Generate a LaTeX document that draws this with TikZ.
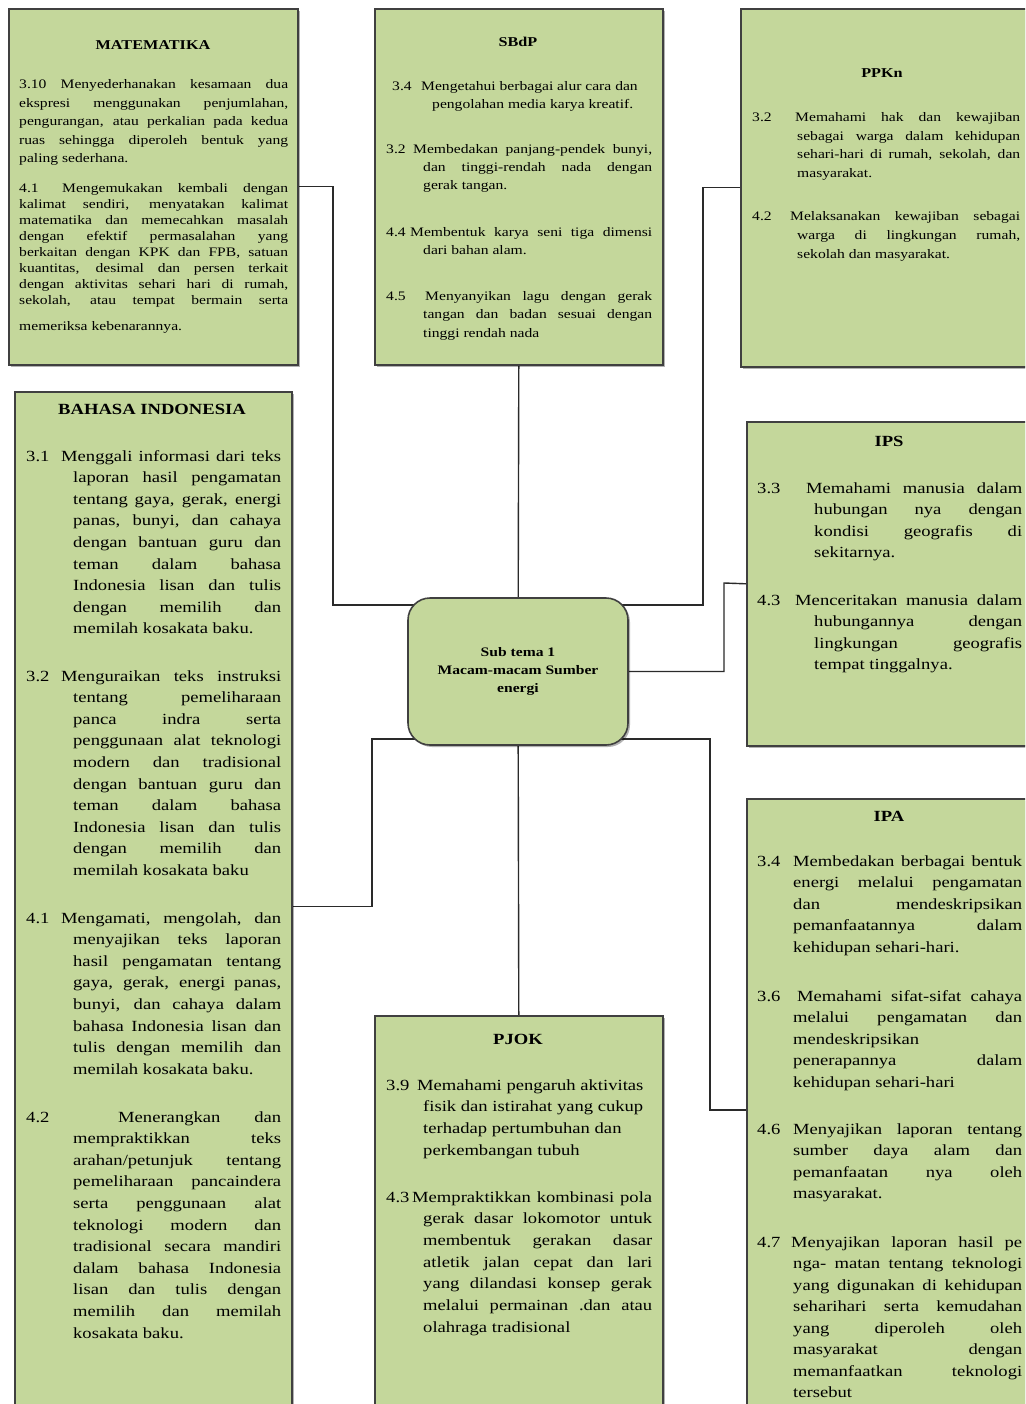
\documentclass[tikz,border=0pt]{standalone}
\usepackage{fontspec}
\setmainfont{Liberation Serif}[FakeStretch=1.2]
\usetikzlibrary{backgrounds,shadows}
\definecolor{boxfill}{HTML}{C4D79B}
\definecolor{boxline}{HTML}{404040}
\definecolor{connline}{HTML}{2A2A2A}
\tolerance=10000 \hbadness=10000 \hyphenpenalty=10000 \exhyphenpenalty=10000
\newcommand{\hng}[1]{\hangindent=#1\hangafter=1\noindent}
\newcommand{\nbox}[2]{\makebox[#1][l]{#2}}
\tikzset{
  box/.style={draw=boxline, fill=boxfill, line width=1.6pt, inner sep=0pt, anchor=north west,
    drop shadow={shadow xshift=2pt, shadow yshift=-2pt, fill=black, opacity=0.3}},
  conn/.style={draw=connline, line width=1.4pt},
  title/.style={anchor=base, inner sep=0pt, font=\bfseries\fontsize{#1}{#1}\selectfont},
  para/.style={anchor=base west, inner sep=0pt, align=justify, text width=#1},
  fs/.style={font=\fontsize{13}{#1}\selectfont},
  fl/.style={font=\fontsize{15.5}{#1}\selectfont},
}
\begin{document}
\begin{tikzpicture}[x=1pt,y=-1pt]
\useasboundingbox (0,0) rectangle (1025,1404);
\begin{scope}
\clip (0,0) rectangle (1025,1404);
% boxes
\node[box, minimum width=289pt, minimum height=356pt] (mat) at (8,8) {};
\node[box, minimum width=288pt, minimum height=356pt] (sbdp) at (374,8) {};
\node[box, minimum width=305pt, minimum height=358pt] (ppkn) at (740,8) {};
\node[box, minimum width=277pt, minimum height=1029pt] (bi) at (14,391) {};
\node[box, minimum width=299pt, minimum height=324pt] (ips) at (746,421) {};
\node[box, minimum width=299pt, minimum height=622pt] (ipa) at (746,798) {};
\node[box, minimum width=288pt, minimum height=405pt] (pjok) at (374,1015) {};
\node[box, rounded corners=22pt, minimum width=220pt, minimum height=147pt, anchor=center,
  align=center, font=\bfseries\fontsize{13}{18}\selectfont] (hub) at (518,671.5)
  {Sub tema 1\\Macam-macam Sumber\\energi};

% MATEMATIKA
\node[title=13.5] (matT) at (153,50) {MATEMATIKA};
\node[para=269pt, fs=18.5] (mat1) at (19,89) {\noindent 3.10 Menyederhanakan kesamaan dua\linebreak ekspresi menggunakan penjumlahan,\linebreak pengurangan, atau perkalian pada kedua\linebreak ruas sehingga diperoleh bentuk yang\linebreak paling sederhana.\par};
\node[para=269pt, fs=16] (mat2) at (19,193) {\noindent\nbox{43pt}{4.1}Mengemukakan kembali dengan\linebreak kalimat sendiri, menyatakan kalimat\linebreak matematika dan memecahkan masalah\linebreak dengan efektif permasalahan yang\linebreak berkaitan dengan KPK dan FPB, satuan\linebreak kuantitas, desimal dan persen terkait\linebreak dengan aktivitas sehari hari di rumah,\linebreak sekolah, atau tempat bermain serta\vadjust{\vskip 10pt}\linebreak memeriksa kebenarannya.\par};

% SBdP
\node[title=13.5] (sbT) at (518,47) {SBdP};
\node[para=260pt, fs=17.5] (sb1) at (392,91) {\hng{40pt}\nbox{29pt}{3.4}Mengetahui berbagai alur cara dan\\ pengolahan media karya kreatif.\par};
\node[para=266pt, fs=18] (sb2) at (386,154) {\hng{37pt}\nbox{27pt}{3.2}Membedakan panjang-pendek bunyi,\linebreak dan tinggi-rendah nada dengan\linebreak gerak tangan.\par};
\node[para=266pt, fs=18] (sb3) at (386,237) {\hng{37pt}\nbox{24pt}{4.4}Membentuk karya seni tiga dimensi\linebreak dari bahan alam.\par};
\node[para=266pt, fs=18] (sb4) at (386,301) {\hng{37pt}\nbox{39pt}{4.5}Menyanyikan lagu dengan gerak\linebreak tangan dan badan sesuai dengan\linebreak tinggi rendah nada\par};

% PPKn
\node[title=13.5] (ppT) at (882,78) {PPKn};
\node[para=268pt, fs=18.5] (pp1) at (752,122) {\hng{45pt}\nbox{43pt}{3.2}Memahami hak dan kewajiban\linebreak sebagai warga dalam kehidupan\linebreak sehari-hari di rumah, sekolah, dan\linebreak masyarakat.\par};
\node[para=268pt, fs=19] (pp2) at (752,221) {\hng{45pt}\nbox{38pt}{4.2}Melaksanakan kewajiban sebagai\linebreak warga di lingkungan rumah,\linebreak sekolah dan masyarakat.\par};

% BAHASA INDONESIA
\node[title=15.5] (biT) at (152,414) {BAHASA INDONESIA};
\node[para=255pt, fl=21.6] (bi1) at (26,461) {\hng{47pt}\nbox{35pt}{3.1}Menggali informasi dari teks\linebreak laporan hasil pengamatan\linebreak tentang gaya, gerak, energi\linebreak panas, bunyi, dan cahaya\linebreak dengan bantuan guru dan\linebreak teman dalam bahasa\linebreak Indonesia lisan dan tulis\linebreak dengan memilih dan\linebreak memilah kosakata baku.\par};
\node[para=255pt, fl=21.6] (bi2) at (26,681) {\hng{47pt}\nbox{35pt}{3.2}Menguraikan teks instruksi\linebreak tentang pemeliharaan\linebreak panca indra serta\linebreak penggunaan alat teknologi\linebreak modern dan tradisional\linebreak dengan bantuan guru dan\linebreak teman dalam bahasa\linebreak Indonesia lisan dan tulis\linebreak dengan memilih dan\linebreak memilah kosakata baku\par};
\node[para=255pt, fl=21.6] (bi3) at (26,923) {\hng{47pt}\nbox{35pt}{4.1}Mengamati, mengolah, dan\linebreak menyajikan teks laporan\linebreak hasil pengamatan tentang\linebreak gaya, gerak, energi panas,\linebreak bunyi, dan cahaya dalam\linebreak bahasa Indonesia lisan dan\linebreak tulis dengan memilih dan\linebreak memilah kosakata baku.\par};
\node[para=255pt, fl=21.6] (bi4) at (26,1122) {\hng{47pt}\nbox{92pt}{4.2}Menerangkan dan\linebreak mempraktikkan teks\linebreak arahan/petunjuk tentang\linebreak pemeliharaan pancaindera\linebreak serta penggunaan alat\linebreak teknologi modern dan\linebreak tradisional secara mandiri\linebreak dalam bahasa Indonesia\linebreak lisan dan tulis dengan\linebreak memilih dan memilah\linebreak kosakata baku.\par};

% IPS
\node[title=15.5] (ipsT) at (889,446) {IPS};
\node[para=265pt, fl=21.5] (ips1) at (757,493) {\hng{57pt}\nbox{49pt}{3.3}Memahami manusia dalam\linebreak hubungan nya dengan\linebreak kondisi geografis di\linebreak sekitarnya.\par};
\node[para=265pt, fl=21.5] (ips2) at (757,605) {\hng{57pt}\nbox{38pt}{4.3}Menceritakan manusia dalam\linebreak hubungannya dengan\linebreak lingkungan geografis\linebreak tempat tinggalnya.\par};

% IPA
\node[title=15.5] (ipaT) at (889,821) {IPA};
\node[para=265pt, fl=21.5] (ipa1) at (757,866) {\hng{36pt}\nbox{36pt}{3.4}Membedakan berbagai bentuk\linebreak energi melalui pengamatan\linebreak dan mendeskripsikan\linebreak pemanfaatannya dalam\linebreak kehidupan sehari-hari.\par};
\node[para=265pt, fl=21.5] (ipa2) at (757,1001) {\hng{36pt}\nbox{40pt}{3.6}Memahami sifat-sifat cahaya\linebreak melalui pengamatan dan\linebreak mendeskripsikan\\ penerapannya dalam\linebreak kehidupan sehari-hari\par};
\node[para=265pt, fl=21.5] (ipa3) at (757,1134) {\hng{36pt}\nbox{36pt}{4.6}Menyajikan laporan tentang\linebreak sumber daya alam dan\linebreak pemanfaatan nya oleh\linebreak masyarakat.\par};
\node[para=265pt, fl=21.5] (ipa4) at (757,1247) {\hng{36pt}\nbox{34pt}{4.7}Menyajikan laporan hasil pe\linebreak nga- matan tentang teknologi\linebreak yang digunakan di kehidupan\linebreak seharihari serta kemudahan\linebreak yang diperoleh oleh\linebreak masyarakat dengan\linebreak memanfaatkan teknologi\linebreak tersebut\par};

% PJOK
\node[title=15.5] (pjT) at (518,1044) {PJOK};
\node[para=266pt, fl=21.7] (pj1) at (386,1090) {\hng{37pt}\nbox{31pt}{3.9}Memahami pengaruh aktivitas\\ fisik dan istirahat yang cukup\\ terhadap pertumbuhan dan\\ perkembangan tubuh\par};
\node[para=266pt, fl=21.7] (pj2) at (386,1202) {\hng{37pt}\nbox{26pt}{4.3}Mempraktikkan kombinasi pola\linebreak gerak dasar lokomotor untuk\linebreak membentuk gerakan dasar\linebreak atletik jalan cepat dan lari\linebreak yang dilandasi konsep gerak\linebreak melalui permainan .dan atau\linebreak olahraga tradisional\par};
\end{scope}

% connectors
\begin{pgfonlayer}{background}
\coordinate (m1) at (333,605);
\coordinate (p1) at (703,605);
\coordinate (i1) at (724,583);
\coordinate (a1) at (710,739);
\coordinate (b1) at (372,739);
\draw[conn] (mat.east) -| (m1) -- (m1 -| hub.center);
\draw[conn] (m1 -| hub.center) -- (p1) |- (ppkn.west);
\draw[conn] (sbdp.south) -- (hub.center);
\draw[conn] (hub.center) -| (i1) -- (ips.west);
\draw[conn] (bi.east) -| (b1) -- (b1 -| hub.center);
\draw[conn] (b1 -| hub.center) -- (a1) |- (ipa.west);
\draw[conn] (hub.center) -- (pjok.north);
\end{pgfonlayer}
\end{tikzpicture}
\end{document}
